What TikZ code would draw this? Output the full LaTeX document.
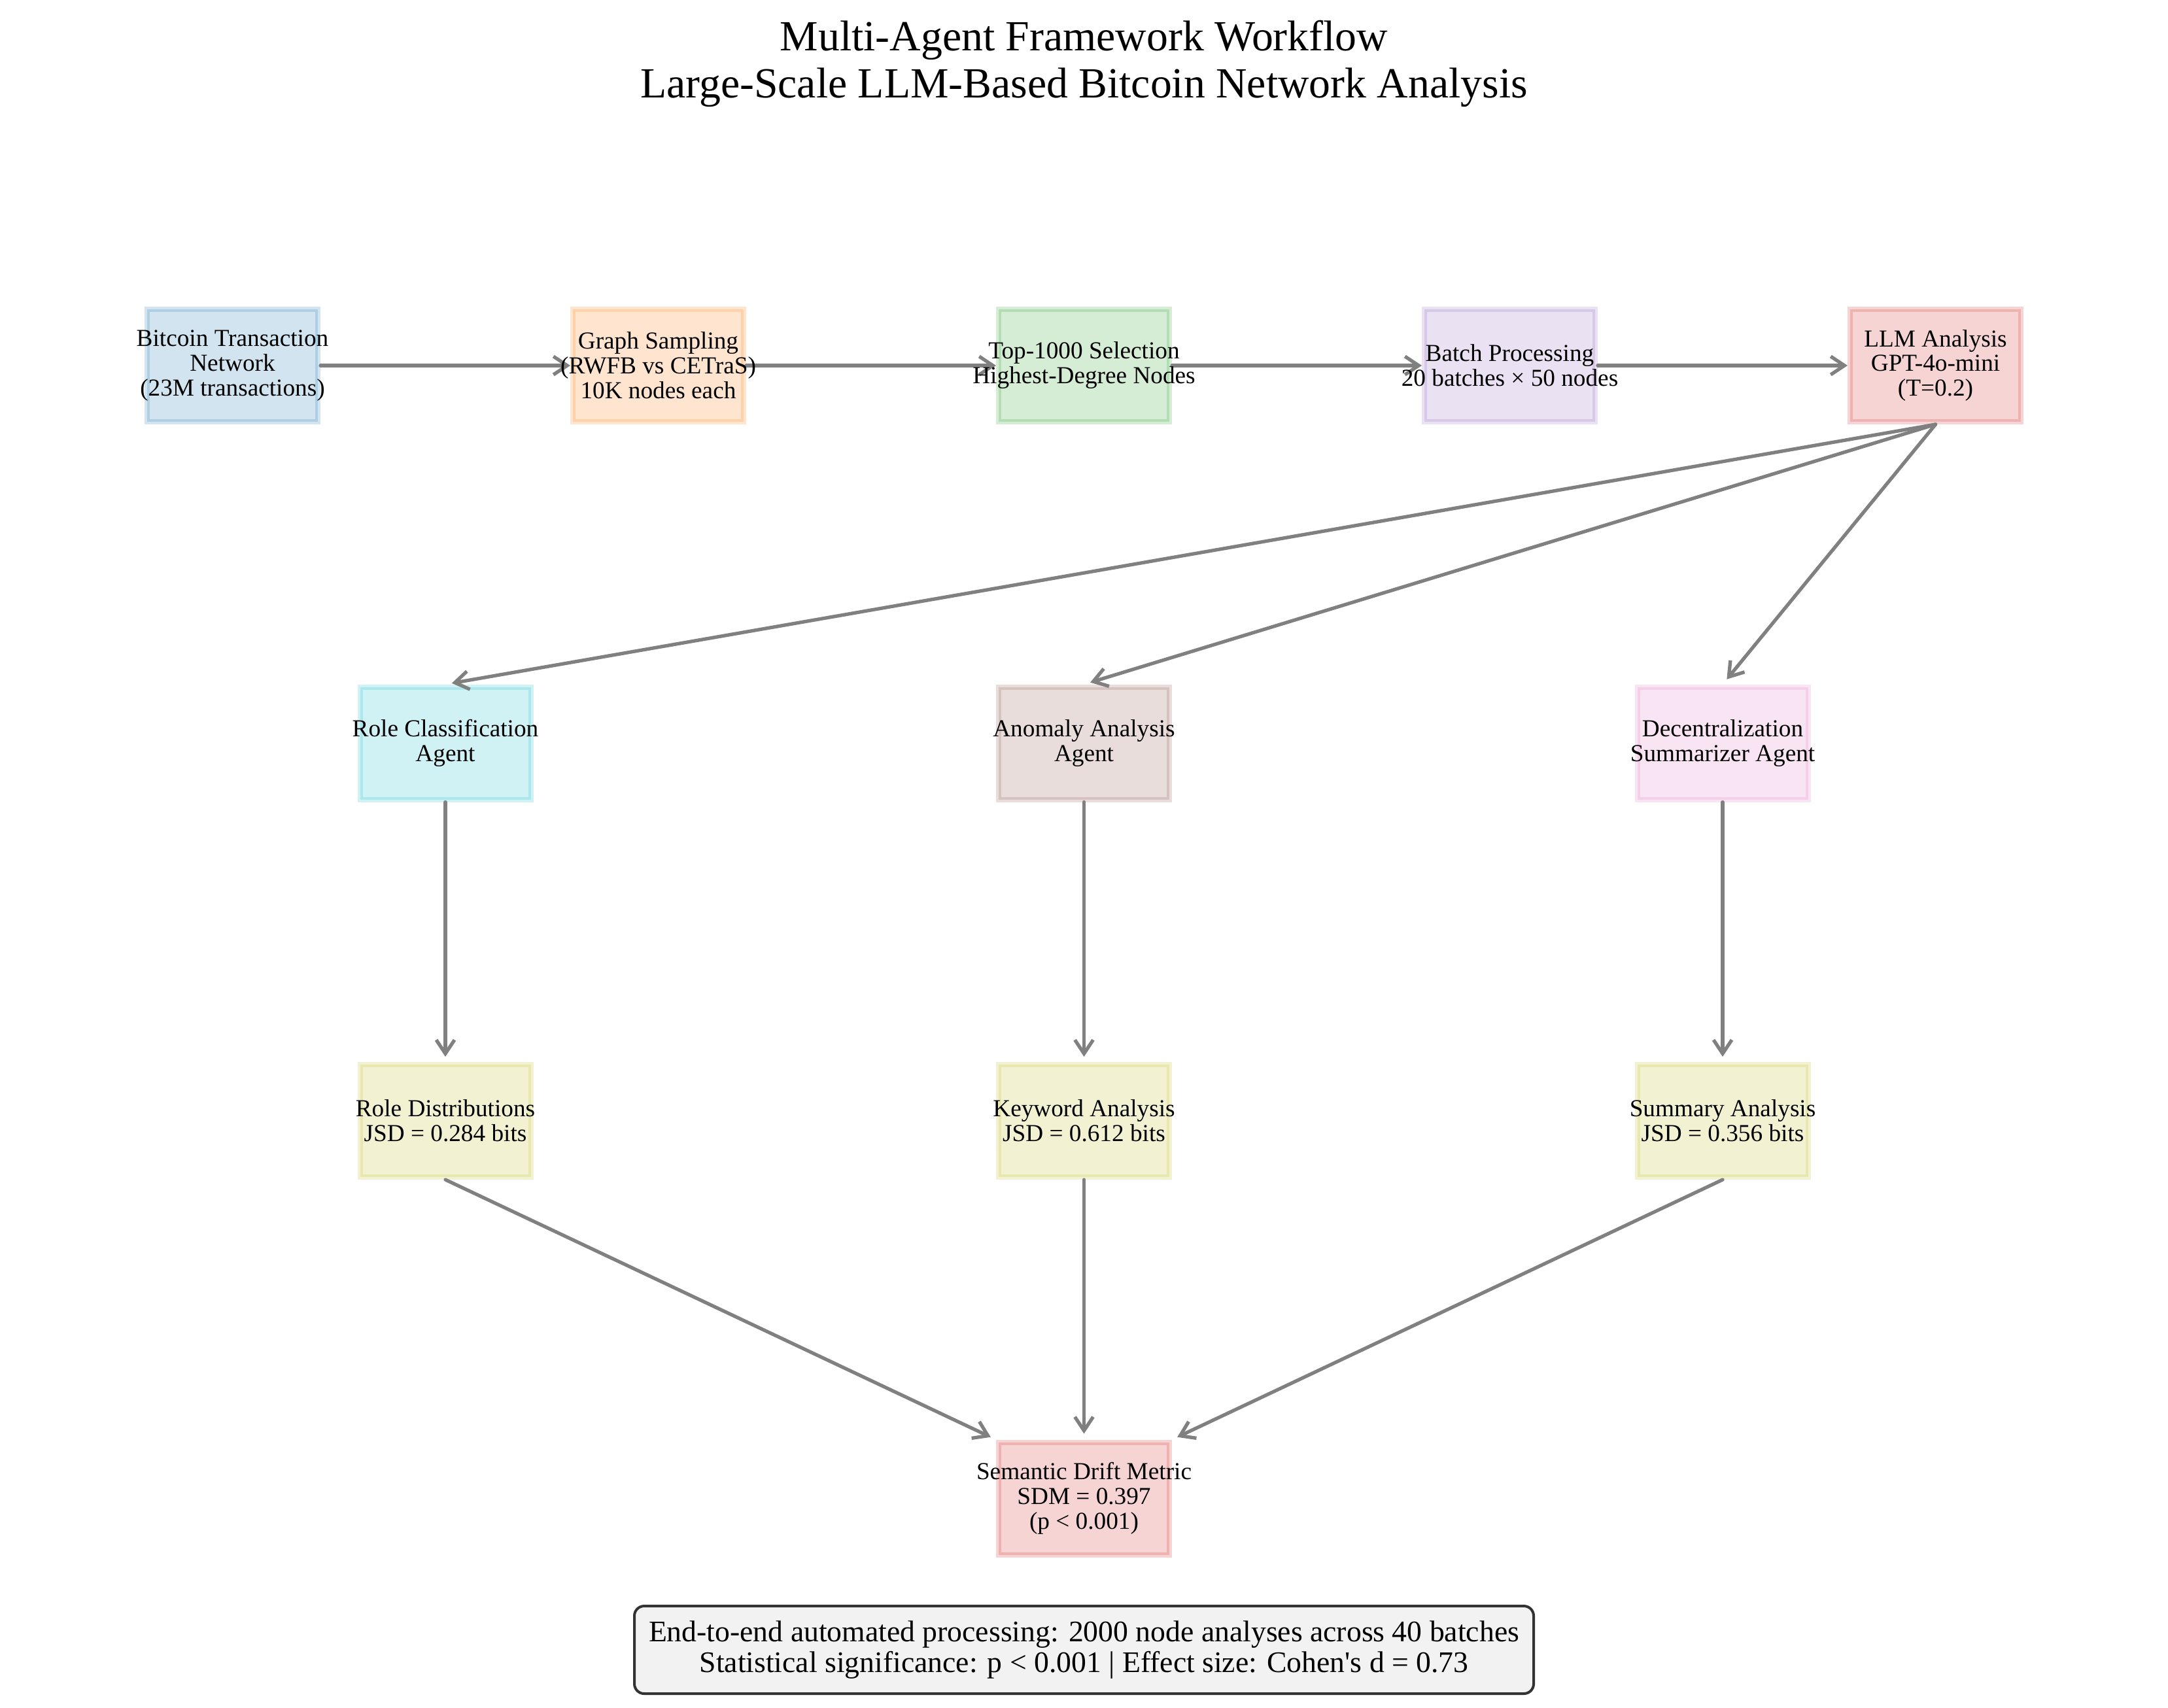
\documentclass[tikz,border=0pt]{standalone}
\usepackage{fontspec}
\setmainfont{Liberation Serif}
\usepackage{tikz}
\usetikzlibrary{arrows.meta}
\usepackage{xcolor}
\definecolor{tblue}{HTML}{1F77B4}
\definecolor{torange}{HTML}{FF7F0E}
\definecolor{tgreen}{HTML}{2CA02C}
\definecolor{tpurple}{HTML}{9467BD}
\definecolor{tred}{HTML}{D62728}
\definecolor{tbrown}{HTML}{8C564B}
\definecolor{tpink}{HTML}{E377C2}
\definecolor{tolive}{HTML}{BCBD22}
\definecolor{tcyan}{HTML}{17BECF}

\begin{document}
\begin{tikzpicture}[>={Straight Barb[length=2.1mm,width=2.8mm]},
  box/.style={draw=#1,fill=#1,draw opacity=0.2,fill opacity=0.2,line width=0.08cm,minimum width=2.61cm,minimum height=1.72cm,inner sep=0pt},
  txt/.style={align=center,inner sep=0pt,font=\fontsize{10.6}{10.8}\selectfont},
  flow/.style={->,draw=gray,line width=0.053cm,line cap=round,line join=round}]
\useasboundingbox (0,0) rectangle (33.15,-26.11);
\node[align=center,anchor=north,inner sep=0pt,font=\fontsize{18.7}{20.4}\selectfont] (title) at (16.575,-0.31) {Multi-Agent Framework Workflow\\Large-Scale LLM-Based Bitcoin Network Analysis};
% pipeline boxes
\node[box=tblue] (net) at (3.555,-5.59) {};
\node[box=torange] (samp) at (10.065,-5.59) {};
\node[box=tgreen] (top) at (16.575,-5.59) {};
\node[box=tpurple] (batch) at (23.085,-5.59) {};
\node[box=tred] (llm) at (29.595,-5.59) {};
\node[box=tcyan] (role) at (6.81,-11.365) {};
\node[box=tbrown] (anom) at (16.575,-11.365) {};
\node[box=tpink] (dec) at (26.34,-11.365) {};
\node[box=tolive] (roled) at (6.81,-17.14) {};
\node[box=tolive] (keyw) at (16.575,-17.14) {};
\node[box=tolive] (summ) at (26.34,-17.14) {};
\node[box=tred] (sdm) at (16.575,-22.915) {};
% connectors
\foreach \a/\b in {net/samp,samp/top,top/batch,batch/llm}
  \draw[flow] (\a) -- (\b);
\foreach \b in {role,anom,dec}
  \draw[flow,shorten >=0.1cm] (llm.south) -- (\b.north);
\foreach \a/\b in {role/roled,anom/keyw,dec/summ}
  \draw[flow,shorten >=0.08cm] (\a) -- (\b);
\draw[flow,shorten >=0.09cm] (roled.south) -- (sdm.north west);
\draw[flow,shorten >=0.09cm] (keyw) -- (sdm);
\draw[flow,shorten >=0.09cm] (summ.south) -- (sdm.north east);
% labels
\node[txt] (net-t) at (net) {Bitcoin Transaction\\Network\\(23M transactions)};
\node[txt] (samp-t) at (samp) {Graph Sampling\\(RWFB vs CETraS)\\10K nodes each};
\node[txt] (top-t) at (top) {Top-1000 Selection\\Highest-Degree Nodes};
\node[txt] (batch-t) at (batch) {Batch Processing\\20 batches × 50 nodes};
\node[txt] (llm-t) at (llm) {LLM Analysis\\GPT-4o-mini\\(T=0.2)};
\node[txt] (role-t) at (role) {Role Classification\\Agent};
\node[txt] (anom-t) at (anom) {Anomaly Analysis\\Agent};
\node[txt] (dec-t) at (dec) {Decentralization\\Summarizer Agent};
\node[txt] (roled-t) at (roled) {Role Distributions\\JSD = 0.284 bits};
\node[txt] (keyw-t) at (keyw) {Keyword Analysis\\JSD = 0.612 bits};
\node[txt] (summ-t) at (summ) {Summary Analysis\\JSD = 0.356 bits};
\node[txt] (sdm-t) at (sdm) {Semantic Drift Metric\\SDM = 0.397\\(p < 0.001)};
% footer
\node[draw=black!80,fill=gray!10,line width=0.04cm,rounded corners=0.15cm,minimum width=13.75cm,minimum height=1.34cm,align=center,inner sep=0pt,font=\fontsize{13}{13.6}\selectfont] (note) at (16.575,-25.23) {End-to-end automated processing: 2000 node analyses across 40 batches\\Statistical significance: p < 0.001 | Effect size: Cohen\textquotesingle s d = 0.73};
\end{tikzpicture}
\end{document}
